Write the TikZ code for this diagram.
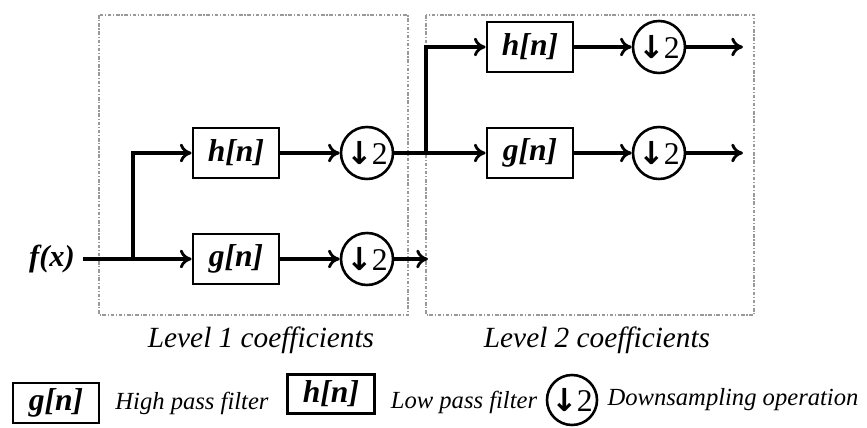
\documentclass[tikz,border=0pt]{standalone}
\usepackage{fontspec}
\setmainfont{Liberation Serif}
\newfontfamily\symfont{DejaVu Sans}
\usepackage{tikz}
\usetikzlibrary{arrows.meta}

\newcommand{\dn}{{\symfont\bfseries ↓}\kern-1pt 2}

\begin{document}
\begin{tikzpicture}[x=0.03cm,y=-0.03cm,
  filt/.style={draw,line width=2.4pt,minimum width=2.58cm,minimum height=1.5cm,inner sep=0pt,
    font=\fontsize{27}{31}\selectfont\bfseries\itshape},
  down/.style={draw,circle,line width=2.2pt,minimum size=1.56cm,inner sep=0pt,
    font=\fontsize{27}{31}\selectfont},
  flow/.style={line width=2.8pt,-{To[length=10pt,width=16pt,line width=2.4pt]}},
  frame/.style={draw=gray!80,line width=1.2pt,dash pattern=on 3pt off 1.5pt on 1pt off 1.5pt},
  lvl/.style={font=\fontsize{25}{29}\selectfont\itshape},
  leg/.style={font=\fontsize{21}{25}\selectfont\itshape}]

\useasboundingbox (0,0) rectangle (867,428);

\draw[frame] (99,15) rectangle (408,315);
\draw[frame] (426,15) rectangle (754,315);

 \node[lvl] (lev1) at (261,340) {Level 1 coefficients};
 \node[lvl] (lev2) at (597,340) {Level 2 coefficients};

\node[inner sep=7pt,font=\fontsize{26}{30}\selectfont\bfseries\itshape] (fx) at (52,259) {f(x)};

\node[filt] (h1) at (236,153) {h[n]};
\node[filt] (g1) at (236,259) {g[n]};
\node[down] (d1h) at (367,153) {\dn};
\node[down] (d1g) at (367,259) {\dn};

\node[filt] (h2) at (530,47) {h[n]};
\node[filt] (g2) at (530,153) {g[n]};
\node[down] (d2h) at (659,47) {\dn};
\node[down] (d2g) at (659,153) {\dn};

\coordinate (s1) at (133,259);
\coordinate (s2) at (426,153);
\coordinate (e1) at (428,259);
\coordinate (o1) at (743,47);
\coordinate (o2) at (743,153);

\draw[flow] (fx) -- (g1);
\draw[flow] (s1) |- (h1);
\draw[flow] (h1) -- (d1h);
\draw[flow] (g1) -- (d1g);
\draw[flow] (d1g) -- (e1);
\draw[flow] (d1h) -- (g2);
\draw[flow] (s2) |- (h2);
\draw[flow] (h2) -- (d2h);
\draw[flow] (g2) -- (d2g);
\draw[flow] (d2h) -- (o1);
\draw[flow] (d2g) -- (o2);

\node[filt,minimum height=1.2cm] (lg) at (56,403) {g[n]};
\node[leg] (lgt) at (192,403) {High pass filter};
\node[filt,minimum width=2.6cm,minimum height=1.17cm] (lh) at (331,394) {h[n]};
\node[leg] (lht) at (464,402) {Low pass filter};
\node[down,minimum size=1.5cm] (ld) at (572,400) {\dn};
\node[leg] (ldt) at (733,400) {Downsampling operation};

\end{tikzpicture}
\end{document}
